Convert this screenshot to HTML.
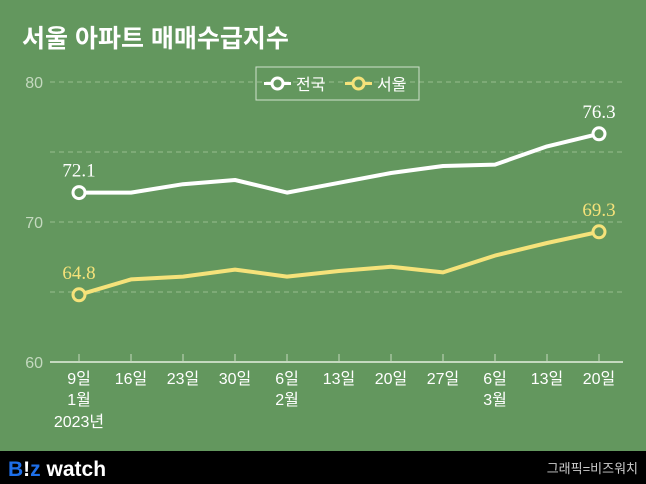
<!DOCTYPE html>
<html><head><meta charset="utf-8"><style>
body{margin:0;width:646px;height:484px;overflow:hidden;background:#000;font-family:"Liberation Sans","Noto Sans CJK KR",sans-serif}
svg{display:block}
</style></head><body>
<svg width="646" height="484">
<rect x="0" y="0" width="646" height="451" fill="#63975e"/>
<text x="22" y="47" font-size="25" font-weight="bold" fill="#fff" font-family="Liberation Sans,Noto Sans CJK KR,sans-serif">서울 아파트 매매수급지수</text>
<g id="grid"></g><g id="xaxis"></g><g id="lines"></g>
<g>
<rect x="256" y="67" width="163" height="33" fill="none" stroke="#cfe0cc" stroke-width="1"/>
<line x1="264" y1="83.5" x2="291" y2="83.5" stroke="#fff" stroke-width="3"/><circle cx="277.5" cy="83.5" r="5.5" fill="#63975e" stroke="#fff" stroke-width="3"/>
<text x="296" y="90" font-size="16" fill="#fff">전국</text>
<line x1="345" y1="83.5" x2="372" y2="83.5" stroke="#f5e27a" stroke-width="3"/><circle cx="358.5" cy="83.5" r="5.5" fill="#63975e" stroke="#f5e27a" stroke-width="3"/>
<text x="377" y="90" font-size="16" fill="#fff">서울</text>
</g>
<rect x="0" y="451" width="646" height="33" fill="#000"/>
<text x="8" y="476" font-size="21" font-weight="bold" fill="#fff"><tspan fill="#1e6fe8">B</tspan><tspan fill="#fff">!</tspan><tspan fill="#1e6fe8">z</tspan> watch</text>
<text x="638" y="473" font-size="13" fill="#ccc" text-anchor="end">그래픽=비즈워치</text>
</svg>
<script>
const categories=["9일","16일","23일","30일","6일","13일","20일","27일","6일","13일","20일"];
const monthLabels=["1월","","","","2월","","","","3월","",""];
const national=[72.1,72.1,72.7,73.0,72.1,72.8,73.5,74.0,74.1,75.4,76.3];
const seoul=[64.8,65.9,66.1,66.6,66.1,66.5,66.8,66.4,67.6,68.5,69.3];
const yTicks=[60,70,80];
const dashTicks=[65,75];
const NS="http://www.w3.org/2000/svg";
const xs=i=>79+i*52, ys=v=>362-(v-60)*14;
function el(t,a,p){const e=document.createElementNS(NS,t);for(const k in a)e.setAttribute(k,a[k]);document.getElementById(p).appendChild(e);return e;}
yTicks.forEach(v=>{
 if(v>60){const l=el('line',{x1:50,x2:623,y1:ys(v),y2:ys(v),stroke:'#86b07f','stroke-dasharray':'5,4','stroke-width':1.5},'grid');
 
 }
 const t=el('text',{x:43,y:ys(v)+6,'font-size':16,fill:'#c4d9bf','text-anchor':'end'},'grid');t.textContent=v;
 
 
});
dashTicks.forEach(v=>{const l=el('line',{x1:50,x2:623,y1:ys(v),y2:ys(v),stroke:'#86b07f','stroke-dasharray':'5,4','stroke-width':1.5},'grid');
 
 });
const ax=el('line',{x1:50,x2:623,y1:362,y2:362,stroke:'#c4d9bf','stroke-width':2},'xaxis');


categories.forEach((c,i)=>{
 el('line',{x1:xs(i),x2:xs(i),y1:354,y2:362,stroke:'#c4d9bf','stroke-width':1},'xaxis');
 const t=el('text',{x:xs(i),y:384,'font-size':16,fill:'#fff','text-anchor':'middle'},'xaxis');t.textContent=c;
 
 
 if(monthLabels[i]){const m=el('text',{x:xs(i),y:405,'font-size':16,fill:'#fff','text-anchor':'middle'},'xaxis');m.textContent=monthLabels[i];
 
 }
});
const yr=el('text',{x:xs(0),y:427,'font-size':16,fill:'#fff','text-anchor':'middle'},'xaxis');yr.textContent="2023년";


function series(d,col,name){
 const p=el('polyline',{points:d.map((v,i)=>xs(i)+','+ys(v)).join(' '),fill:'none',stroke:col,'stroke-width':4,'stroke-linejoin':'round'},'lines');
 
 
 [0,d.length-1].forEach(i=>{
  const c=el('circle',{cx:xs(i),cy:ys(d[i]),r:6,fill:'#63975e',stroke:col,'stroke-width':3},'lines');
  
  
  const t=el('text',{x:xs(i),y:ys(d[i])-16,'font-size':19,fill:col,'text-anchor':'middle','font-family':'Liberation Serif,serif'},'lines');t.textContent=d[i].toFixed(1);
  
  
 });
}
series(national,'#ffffff','national');
series(seoul,'#f5e27a','seoul');
</script>
</body></html>
